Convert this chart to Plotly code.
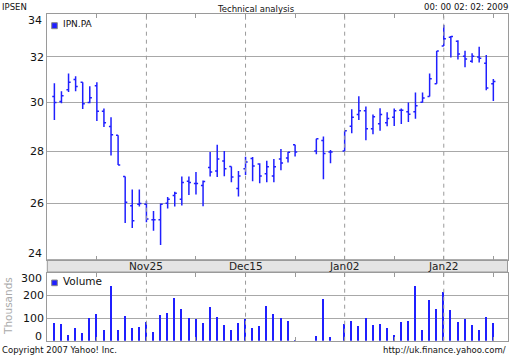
import math
import plotly.graph_objects as go
import pandas as pd

# ---------------- data ----------------
dates = [
    "2008-11-06", "2008-11-07", "2008-11-10", "2008-11-11", "2008-11-12", "2008-11-13", "2008-11-14",
    "2008-11-17", "2008-11-18", "2008-11-19", "2008-11-20", "2008-11-21", "2008-11-24", "2008-11-25",
    "2008-11-26", "2008-11-27", "2008-11-28", "2008-12-01", "2008-12-02", "2008-12-03", "2008-12-04",
    "2008-12-05", "2008-12-08", "2008-12-09", "2008-12-10", "2008-12-11", "2008-12-12", "2008-12-15",
    "2008-12-16", "2008-12-17", "2008-12-18", "2008-12-19", "2008-12-22", "2008-12-23", "2008-12-24",
    "2008-12-29", "2008-12-30", "2008-12-31", "2009-01-02", "2009-01-05", "2009-01-06", "2009-01-07",
    "2009-01-08", "2009-01-09", "2009-01-12", "2009-01-13", "2009-01-14", "2009-01-15", "2009-01-16",
    "2009-01-19", "2009-01-20", "2009-01-21", "2009-01-22", "2009-01-23", "2009-01-26", "2009-01-27",
    "2009-01-28", "2009-01-29", "2009-01-30", "2009-02-02",
]
opens = [
    30.25, 30.04, 30.54, 30.99, 30.87, 30.00, 30.72, 29.63, 28.99, 28.63, 27.01, 25.91, 25.96, 25.96,
    25.40, 25.40, 26.00, 26.29, 26.15, 26.83, 26.74, 26.66, 27.35, 27.22, 27.61, 27.39, 26.55, 27.31,
    27.71, 27.49, 27.11, 27.03, 27.69, 27.73, 28.25, 28.00, 28.42, 27.96, 28.00, 29.00, 29.49, 29.65,
    28.90, 29.11, 29.15, 29.38, 29.67, 29.61, 29.61, 30.01, 30.25, 30.81, 32.50, 32.91, 32.72, 32.03,
    31.80, 32.00, 31.72, 30.81,
]
highs = [
    30.83, 30.48, 31.26, 31.13, 30.87, 30.70, 30.87, 29.74, 29.38, 28.63, 27.01, 26.51, 26.51, 26.08,
    25.72, 25.99, 26.23, 26.43, 27.01, 27.01, 27.18, 26.85, 27.96, 28.25, 28.00, 27.39, 27.22, 27.77,
    27.76, 27.52, 27.62, 27.69, 28.08, 27.96, 28.25, 28.49, 28.58, 28.04, 28.82, 29.71, 30.26, 29.83,
    29.49, 29.75, 29.58, 29.74, 29.74, 30.00, 30.43, 30.43, 31.26, 32.27, 33.48, 32.97, 32.77, 32.28,
    32.17, 32.47, 32.09, 31.01,
]
lows = [
    29.26, 29.97, 30.45, 30.48, 29.72, 29.97, 29.22, 28.97, 27.82, 27.45, 25.28, 25.10, 25.88, 25.31,
    25.01, 24.51, 25.81, 25.88, 25.92, 26.31, 26.33, 25.89, 27.01, 26.99, 27.02, 26.79, 26.25, 27.06,
    26.83, 26.75, 26.79, 26.79, 27.25, 27.55, 27.78, 27.87, 26.90, 27.52, 28.00, 28.72, 29.26, 28.43,
    28.68, 28.82, 29.00, 29.01, 29.10, 29.18, 29.31, 30.00, 30.25, 30.81, 32.50, 31.97, 31.88, 31.54,
    31.74, 31.75, 30.52, 30.06,
]
closes = [
    30.00, 30.29, 30.87, 30.68, 29.94, 30.20, 29.63, 29.15, 28.65, 27.45, 26.04, 25.36, 25.99, 25.43,
    25.40, 25.96, 26.15, 26.37, 26.78, 26.78, 26.74, 26.82, 27.18, 27.69, 27.31, 26.99, 27.03, 27.57,
    27.41, 27.03, 27.38, 27.38, 27.53, 27.95, 27.96, 28.49, 27.90, 27.96, 28.82, 29.38, 29.65, 28.90,
    29.40, 29.49, 29.32, 29.65, 29.67, 29.50, 29.86, 30.19, 31.03, 32.27, 32.84, 32.94, 32.13, 31.91,
    32.03, 31.94, 30.62, 30.90,
]
volumes = [  # thousands
    78, 74, 25, 56, 34, 100, 118, 47, 241, 47, 109, 56, 60, 82,
    38, 113, 126, 188, 140, 100, 96, 78, 149, 104, 69, 51, 78, 96,
    56, 65, 153, 118, 100, 88, 7, 21, 184, 16, 74, 88, 65, 100,
    69, 74, 56, 29, 82, 88, 241, 51, 179, 140, 215, 135, 82, 96,
    69, 51, 104, 78,
]

price_ticks = [24, 26, 28, 30, 32, 34]
volume_ticks = [0, 100, 200, 300]
tick_dates = ["2008-11-14", "2008-11-25", "2008-12-04", "2008-12-15", "2008-12-24",
              "2009-01-02", "2009-01-13", "2009-01-22", "2009-02-02"]
tick_labels = ["", "Nov25", "", "Dec15", "", "Jan02", "", "Jan22", ""]

ticker = "IPN.PA"
title_left = "IPSEN"
title_mid = "Technical analysis"
title_right = "00: 00 02: 02: 2009"

# ---------------- layout helpers ----------------
W, H = 512, 355
def px(x):
    return x / W
def py(y):
    return 1 - y / H

BLUE = "#1f1fff"
GRID = "#a8a8a8"
FRAME = "#9a9a9a"
FONT = "DejaVu Sans"

all_days = [d.strftime("%Y-%m-%d") for d in pd.bdate_range("2008-11-05", "2009-02-04")]

fig = go.Figure()
fig.add_trace(go.Ohlc(
    x=dates, open=opens, high=highs, low=lows, close=closes,
    increasing=dict(line=dict(color=BLUE, width=1.5)),
    decreasing=dict(line=dict(color=BLUE, width=1.5)),
    tickwidth=0.3, xaxis="x", yaxis="y", showlegend=False, hoverinfo="skip",
))
fig.add_trace(go.Bar(
    x=dates, y=volumes, width=0.16, marker=dict(color=BLUE, line=dict(width=0)),
    xaxis="x2", yaxis="y2", showlegend=False, hoverinfo="skip",
))

xcommon = dict(
    type="category", categoryorder="array", categoryarray=all_days, range=[0, len(all_days) - 1],
    tickmode="array", tickvals=tick_dates, ticks="inside", ticklen=4, tickcolor=FRAME,
    showline=True, linecolor=FRAME, linewidth=1, mirror="ticks", showgrid=False, zeroline=False,
    fixedrange=True, showticklabels=False,
)
ycommon = dict(
    showline=True, linecolor=FRAME, linewidth=1, mirror=True, showgrid=True, gridcolor=GRID,
    gridwidth=1, zeroline=False, ticks="", tickfont=dict(family=FONT, size=11, color="#111"),
    fixedrange=True,
)

main_x = [px(47.3), px(507.5)]
fig.update_layout(
    width=W, height=H, margin=dict(l=0, r=0, t=0, b=0),
    paper_bgcolor="white", plot_bgcolor="white",
    xaxis=dict(**xcommon, domain=main_x, anchor="y", rangeslider=dict(visible=False)),
    yaxis=dict(**ycommon, domain=[py(259.7), py(14.2)], anchor="x", type="log",
               range=[math.log10(price_ticks[0]), math.log10(price_ticks[-1])],
               tickmode="array", tickvals=price_ticks,
               ticktext=[""] + [str(v) for v in price_ticks[1:-1]] + [""]),
    xaxis2=dict(**xcommon, domain=main_x, anchor="y2"),
    yaxis2=dict(**ycommon, domain=[py(340.7), py(272.6)], anchor="x2",
                range=[volume_ticks[0], volume_ticks[-1]], tickmode="array", tickvals=volume_ticks,
                ticktext=[""] + [str(v) for v in volume_ticks[1:-1]] + [""]),
    bargap=0,
)

shapes = []
# band for date labels
shapes.append(dict(type="rect", xref="paper", yref="paper", x0=main_x[0], x1=main_x[1],
                   y0=py(272.0), y1=py(259.7), fillcolor="#e4e4e4", line=dict(color=FRAME, width=1),
                   layer="below"))
# dashed verticals at the labelled dates
for d, t in zip(tick_dates, tick_labels):
    if not t:
        continue
    for xr, yr in (("x", "y domain"), ("x2", "y2 domain")):
        shapes.append(dict(type="line", xref=xr, yref=yr, x0=d, x1=d, y0=0, y1=1,
                           line=dict(color=FRAME, width=1, dash="4px,4px"), layer="above"))
# legend squares
shapes.append(dict(type="rect", xref="paper", yref="paper", x0=px(51.7), x1=px(57.3),
                   y0=py(28.7), y1=py(22.7), fillcolor=BLUE, line=dict(color="#888", width=1)))
shapes.append(dict(type="rect", xref="paper", yref="paper", x0=px(51.7), x1=px(57.3),
                   y0=py(285.7), y1=py(280.0), fillcolor=BLUE, line=dict(color="#888", width=1)))
fig.update_layout(shapes=shapes)

ann = []
def text(x, y, s, size, anchor="left", color="#111", **kw):
    ann.append(dict(xref="paper", yref="paper", x=px(x), y=py(y), text=s, showarrow=False,
                    xanchor=anchor, yanchor="middle", font=dict(family=FONT, size=size, color=color), **kw))

text(0, 6.7, title_left, 8.5)
text(255.5, 8.8, title_mid, 8.5, anchor="center")
text(510, 7, title_right, 8.5, anchor="right")
text(61, 24, ticker, 9)
text(61, 281, "Volume", 10.5)
text(7.5, 306.5, "Thousands", 10.5, anchor="center", color="#aaaaaa", textangle=-90)
text(0, 349.5, "Copyright 2007 Yahoo! Inc.", 8.5)
text(508, 349.5, "http://uk.finance.yahoo.com/", 8.5, anchor="right")
# date labels in the band
for d, t in zip(tick_dates, tick_labels):
    if t:
        ann.append(dict(xref="x", yref="paper", x=d, y=py(265.8), text=t, showarrow=False,
                        xanchor="center", yanchor="middle",
                        font=dict(family=FONT, size=10.5, color="#222")))
# edge labels of the value axes, shifted inward
for xref, yref, val, ypos, shift in (("x domain", "y domain", price_ticks[-1], 1, -6),
                                     ("x domain", "y domain", price_ticks[0], 0, 6),
                                     ("x2 domain", "y2 domain", volume_ticks[-1], 1, -6),
                                     ("x2 domain", "y2 domain", volume_ticks[0], 0, 4)):
    ann.append(dict(xref=xref, yref=yref, x=0, y=ypos,
                    text=str(val), showarrow=False, xanchor="right", yanchor="middle", xshift=-3,
                    yshift=shift, font=dict(family=FONT, size=11, color="#111")))
fig.update_layout(annotations=ann)

fig.write_html("out.html")
